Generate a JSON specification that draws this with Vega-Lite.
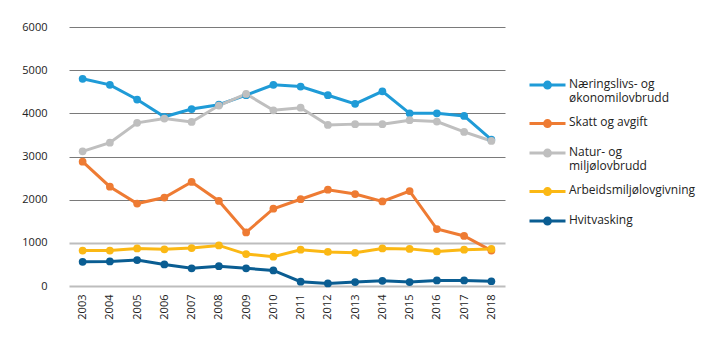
{
  "$schema": "https://vega.github.io/schema/vega-lite/v6.json",
  "width": 436,
  "height": 259,
  "autosize": {"type": "none"},
  "padding": {"left": 69, "top": 27, "right": 214, "bottom": 55},
  "background": "white",
  "config": {"view": {"stroke": null}, "font": "Open Sans"},
  "data": {"values": [
    {"year": "2003", "series": "Næringslivs- og økonomilovbrudd", "value": 4800},
    {"year": "2004", "series": "Næringslivs- og økonomilovbrudd", "value": 4660},
    {"year": "2005", "series": "Næringslivs- og økonomilovbrudd", "value": 4320},
    {"year": "2006", "series": "Næringslivs- og økonomilovbrudd", "value": 3920},
    {"year": "2007", "series": "Næringslivs- og økonomilovbrudd", "value": 4100},
    {"year": "2008", "series": "Næringslivs- og økonomilovbrudd", "value": 4200},
    {"year": "2009", "series": "Næringslivs- og økonomilovbrudd", "value": 4420},
    {"year": "2010", "series": "Næringslivs- og økonomilovbrudd", "value": 4660},
    {"year": "2011", "series": "Næringslivs- og økonomilovbrudd", "value": 4620},
    {"year": "2012", "series": "Næringslivs- og økonomilovbrudd", "value": 4420},
    {"year": "2013", "series": "Næringslivs- og økonomilovbrudd", "value": 4220},
    {"year": "2014", "series": "Næringslivs- og økonomilovbrudd", "value": 4510},
    {"year": "2015", "series": "Næringslivs- og økonomilovbrudd", "value": 4000},
    {"year": "2016", "series": "Næringslivs- og økonomilovbrudd", "value": 4000},
    {"year": "2017", "series": "Næringslivs- og økonomilovbrudd", "value": 3940},
    {"year": "2018", "series": "Næringslivs- og økonomilovbrudd", "value": 3390},
    {"year": "2003", "series": "Skatt og avgift", "value": 2880},
    {"year": "2004", "series": "Skatt og avgift", "value": 2300},
    {"year": "2005", "series": "Skatt og avgift", "value": 1910},
    {"year": "2006", "series": "Skatt og avgift", "value": 2050},
    {"year": "2007", "series": "Skatt og avgift", "value": 2410},
    {"year": "2008", "series": "Skatt og avgift", "value": 1970},
    {"year": "2009", "series": "Skatt og avgift", "value": 1240},
    {"year": "2010", "series": "Skatt og avgift", "value": 1790},
    {"year": "2011", "series": "Skatt og avgift", "value": 2010},
    {"year": "2012", "series": "Skatt og avgift", "value": 2230},
    {"year": "2013", "series": "Skatt og avgift", "value": 2130},
    {"year": "2014", "series": "Skatt og avgift", "value": 1960},
    {"year": "2015", "series": "Skatt og avgift", "value": 2200},
    {"year": "2016", "series": "Skatt og avgift", "value": 1320},
    {"year": "2017", "series": "Skatt og avgift", "value": 1160},
    {"year": "2018", "series": "Skatt og avgift", "value": 820},
    {"year": "2003", "series": "Natur- og miljølovbrudd", "value": 3120},
    {"year": "2004", "series": "Natur- og miljølovbrudd", "value": 3320},
    {"year": "2005", "series": "Natur- og miljølovbrudd", "value": 3780},
    {"year": "2006", "series": "Natur- og miljølovbrudd", "value": 3880},
    {"year": "2007", "series": "Natur- og miljølovbrudd", "value": 3800},
    {"year": "2008", "series": "Natur- og miljølovbrudd", "value": 4180},
    {"year": "2009", "series": "Natur- og miljølovbrudd", "value": 4450},
    {"year": "2010", "series": "Natur- og miljølovbrudd", "value": 4070},
    {"year": "2011", "series": "Natur- og miljølovbrudd", "value": 4130},
    {"year": "2012", "series": "Natur- og miljølovbrudd", "value": 3730},
    {"year": "2013", "series": "Natur- og miljølovbrudd", "value": 3750},
    {"year": "2014", "series": "Natur- og miljølovbrudd", "value": 3750},
    {"year": "2015", "series": "Natur- og miljølovbrudd", "value": 3840},
    {"year": "2016", "series": "Natur- og miljølovbrudd", "value": 3810},
    {"year": "2017", "series": "Natur- og miljølovbrudd", "value": 3570},
    {"year": "2018", "series": "Natur- og miljølovbrudd", "value": 3360},
    {"year": "2003", "series": "Arbeidsmiljølovgivning", "value": 820},
    {"year": "2004", "series": "Arbeidsmiljølovgivning", "value": 820},
    {"year": "2005", "series": "Arbeidsmiljølovgivning", "value": 870},
    {"year": "2006", "series": "Arbeidsmiljølovgivning", "value": 850},
    {"year": "2007", "series": "Arbeidsmiljølovgivning", "value": 880},
    {"year": "2008", "series": "Arbeidsmiljølovgivning", "value": 940},
    {"year": "2009", "series": "Arbeidsmiljølovgivning", "value": 740},
    {"year": "2010", "series": "Arbeidsmiljølovgivning", "value": 680},
    {"year": "2011", "series": "Arbeidsmiljølovgivning", "value": 840},
    {"year": "2012", "series": "Arbeidsmiljølovgivning", "value": 790},
    {"year": "2013", "series": "Arbeidsmiljølovgivning", "value": 770},
    {"year": "2014", "series": "Arbeidsmiljølovgivning", "value": 870},
    {"year": "2015", "series": "Arbeidsmiljølovgivning", "value": 860},
    {"year": "2016", "series": "Arbeidsmiljølovgivning", "value": 800},
    {"year": "2017", "series": "Arbeidsmiljølovgivning", "value": 840},
    {"year": "2018", "series": "Arbeidsmiljølovgivning", "value": 860},
    {"year": "2003", "series": "Hvitvasking", "value": 560},
    {"year": "2004", "series": "Hvitvasking", "value": 570},
    {"year": "2005", "series": "Hvitvasking", "value": 600},
    {"year": "2006", "series": "Hvitvasking", "value": 500},
    {"year": "2007", "series": "Hvitvasking", "value": 410},
    {"year": "2008", "series": "Hvitvasking", "value": 460},
    {"year": "2009", "series": "Hvitvasking", "value": 410},
    {"year": "2010", "series": "Hvitvasking", "value": 360},
    {"year": "2011", "series": "Hvitvasking", "value": 100},
    {"year": "2012", "series": "Hvitvasking", "value": 60},
    {"year": "2013", "series": "Hvitvasking", "value": 90},
    {"year": "2014", "series": "Hvitvasking", "value": 120},
    {"year": "2015", "series": "Hvitvasking", "value": 90},
    {"year": "2016", "series": "Hvitvasking", "value": 130},
    {"year": "2017", "series": "Hvitvasking", "value": 130},
    {"year": "2018", "series": "Hvitvasking", "value": 110}
  ]},
  "mark": {"type": "line", "strokeWidth": 3, "point": {"filled": true, "size": 60, "opacity": 1}},
  "encoding": {
    "x": {
      "field": "year", "type": "ordinal", "title": null,
      "scale": {"type": "point", "padding": 0.5},
      "axis": {"labelAngle": 270, "labelAlign": "right", "labelBaseline": "middle", "labelPadding": 8, "labelFontSize": 11, "labelColor": "#222", "domain": false, "ticks": false, "grid": false}
    },
    "y": {
      "field": "value", "type": "quantitative", "title": null,
      "scale": {"domain": [0, 6000], "nice": false},
      "axis": {
        "values": [0, 1000, 2000, 3000, 4000, 5000, 6000],
        "format": "d",
        "domain": false, "ticks": false, "labelPadding": 22, "labelFontSize": 11, "labelColor": "#222",
        "grid": true,
        "gridColor": {"condition": {"test": "datum.value <= 1000", "value": "#bdbdbd"}, "value": "#7a7a7a"},
        "gridWidth": {"condition": {"test": "datum.value <= 1000", "value": 2}, "value": 1}
      }
    },
    "color": {
      "field": "series", "type": "nominal",
      "scale": {
        "domain": ["Næringslivs- og økonomilovbrudd", "Skatt og avgift", "Natur- og miljølovbrudd", "Arbeidsmiljølovgivning", "Hvitvasking"],
        "range": ["#1f9bd7", "#ee7b33", "#bfbfbf", "#fbb814", "#0a5d92"]
      },
      "legend": {
        "title": null, "orient": "none", "legendX": 471, "legendY": 44,
        "symbolType": "M-3,1.1H3M-0.5,1.1A0.5,0.5 0 1,1 0.5,1.1A0.5,0.5 0 1,1 -0.5,1.1Z",
        "symbolSize": 144, "symbolStrokeWidth": 3, "symbolOpacity": 1,
        "labelFontSize": 12, "labelColor": "#222", "labelLimit": 200, "labelOffset": 14,
        "labelBaseline": "top",
        "rowPadding": 5.5,
        "labelExpr": "datum.label == 'Næringslivs- og økonomilovbrudd' ? ['Næringslivs- og', 'økonomilovbrudd'] : datum.label == 'Natur- og miljølovbrudd' ? ['Natur- og', 'miljølovbrudd'] : datum.label"
      }
    },
    "order": {"field": "year"}
  }
}
